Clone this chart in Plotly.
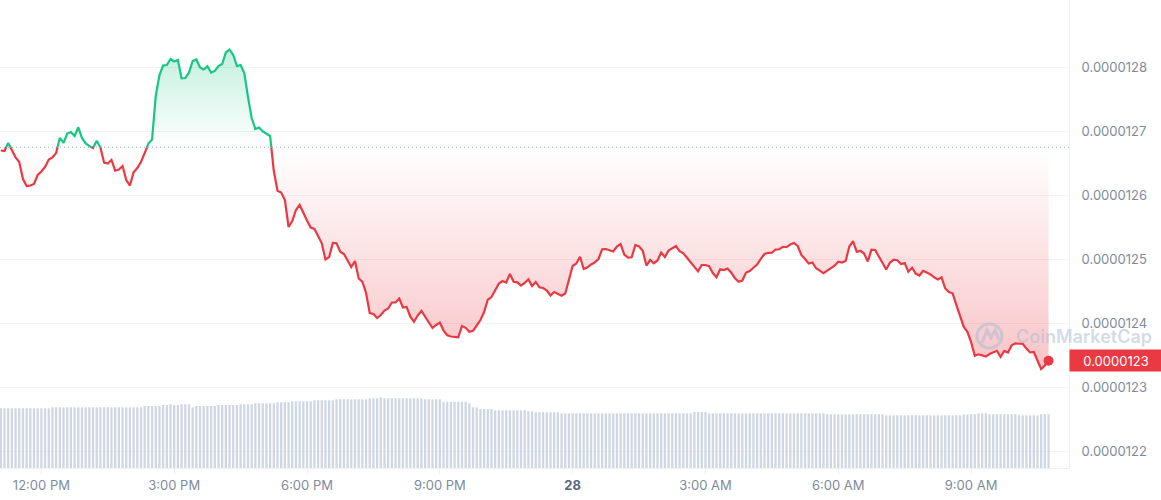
import pandas as pd
import plotly.graph_objects as go

# ---------------- data ----------------
START_TIME = "2024-05-27 11:05"
STEP = "5min"
OPEN_PRICE = 1.26745e-5  # reference (dotted) price

PRICE = [
    1.26695e-5, 1.26688e-5, 1.26813e-5, 1.26703e-5, 1.26586e-5, 1.26516e-5, 1.26250e-5, 1.26141e-5, 1.26148e-5, 1.26172e-5,
    1.26313e-5, 1.26367e-5, 1.26438e-5, 1.26555e-5, 1.26586e-5, 1.26656e-5, 1.26891e-5, 1.26813e-5, 1.26961e-5, 1.26984e-5,
    1.26922e-5, 1.27058e-5, 1.26891e-5, 1.26805e-5, 1.26758e-5, 1.26734e-5, 1.26848e-5, 1.26742e-5, 1.26505e-5, 1.26492e-5,
    1.26547e-5, 1.26380e-5, 1.26398e-5, 1.26453e-5, 1.26234e-5, 1.26148e-5, 1.26355e-5, 1.26422e-5, 1.26516e-5, 1.26641e-5,
    1.26805e-5, 1.26867e-5, 1.27547e-5, 1.27875e-5, 1.28023e-5, 1.28031e-5, 1.28125e-5, 1.28086e-5, 1.28109e-5, 1.27823e-5,
    1.27828e-5, 1.27911e-5, 1.28094e-5, 1.28117e-5, 1.27992e-5, 1.27961e-5, 1.28011e-5, 1.27914e-5, 1.27938e-5, 1.28016e-5,
    1.28047e-5, 1.28227e-5, 1.28273e-5, 1.28188e-5, 1.28016e-5, 1.28031e-5, 1.27906e-5, 1.27531e-5, 1.27203e-5, 1.27031e-5,
    1.27055e-5, 1.26992e-5, 1.26953e-5, 1.26922e-5, 1.26375e-5, 1.26067e-5, 1.26039e-5, 1.25922e-5, 1.25500e-5, 1.25594e-5,
    1.25766e-5, 1.25844e-5, 1.25714e-5, 1.25602e-5, 1.25492e-5, 1.25469e-5, 1.25359e-5, 1.25245e-5, 1.24992e-5, 1.25031e-5,
    1.25250e-5, 1.25245e-5, 1.25114e-5, 1.25078e-5, 1.24977e-5, 1.24875e-5, 1.24969e-5, 1.24695e-5, 1.24645e-5, 1.24469e-5,
    1.24156e-5, 1.24141e-5, 1.24078e-5, 1.24125e-5, 1.24195e-5, 1.24227e-5, 1.24320e-5, 1.24320e-5, 1.24383e-5, 1.24242e-5,
    1.24250e-5, 1.24098e-5, 1.24020e-5, 1.24117e-5, 1.24188e-5, 1.24102e-5, 1.24000e-5, 1.23922e-5, 1.23969e-5, 1.24005e-5,
    1.23886e-5, 1.23809e-5, 1.23789e-5, 1.23781e-5, 1.23777e-5, 1.23953e-5, 1.23925e-5, 1.23864e-5, 1.23878e-5, 1.23961e-5,
    1.24047e-5, 1.24172e-5, 1.24363e-5, 1.24406e-5, 1.24516e-5, 1.24617e-5, 1.24656e-5, 1.24633e-5, 1.24766e-5, 1.24645e-5,
    1.24636e-5, 1.24586e-5, 1.24625e-5, 1.24683e-5, 1.24578e-5, 1.24641e-5, 1.24558e-5, 1.24547e-5, 1.24508e-5, 1.24430e-5,
    1.24484e-5, 1.24453e-5, 1.24425e-5, 1.24461e-5, 1.24688e-5, 1.24891e-5, 1.24930e-5, 1.25036e-5, 1.24844e-5, 1.24870e-5,
    1.24914e-5, 1.24948e-5, 1.25000e-5, 1.25152e-5, 1.25156e-5, 1.25133e-5, 1.25117e-5, 1.25195e-5, 1.25234e-5, 1.25070e-5,
    1.25023e-5, 1.25027e-5, 1.25219e-5, 1.25195e-5, 1.25130e-5, 1.24898e-5, 1.24984e-5, 1.24934e-5, 1.24977e-5, 1.25102e-5,
    1.25031e-5, 1.25131e-5, 1.25172e-5, 1.25202e-5, 1.25122e-5, 1.25089e-5, 1.25019e-5, 1.24945e-5, 1.24875e-5, 1.24806e-5,
    1.24906e-5, 1.24906e-5, 1.24888e-5, 1.24781e-5, 1.24716e-5, 1.24839e-5, 1.24828e-5, 1.24852e-5, 1.24786e-5, 1.24700e-5,
    1.24645e-5, 1.24664e-5, 1.24789e-5, 1.24813e-5, 1.24864e-5, 1.24914e-5, 1.25003e-5, 1.25078e-5, 1.25097e-5, 1.25098e-5,
    1.25148e-5, 1.25152e-5, 1.25191e-5, 1.25184e-5, 1.25227e-5, 1.25250e-5, 1.25203e-5, 1.25063e-5, 1.25000e-5, 1.24930e-5,
    1.24945e-5, 1.24855e-5, 1.24819e-5, 1.24777e-5, 1.24817e-5, 1.24859e-5, 1.24894e-5, 1.24958e-5, 1.24945e-5, 1.24969e-5,
    1.25195e-5, 1.25281e-5, 1.25114e-5, 1.25128e-5, 1.25086e-5, 1.24961e-5, 1.25145e-5, 1.25141e-5, 1.25031e-5, 1.24938e-5,
    1.24836e-5, 1.24941e-5, 1.24988e-5, 1.24980e-5, 1.24922e-5, 1.24938e-5, 1.24802e-5, 1.24863e-5, 1.24772e-5, 1.24742e-5,
    1.24816e-5, 1.24789e-5, 1.24759e-5, 1.24713e-5, 1.24680e-5, 1.24714e-5, 1.24539e-5, 1.24484e-5, 1.24464e-5, 1.24284e-5,
    1.24125e-5, 1.23942e-5, 1.23863e-5, 1.23703e-5, 1.23488e-5, 1.23511e-5, 1.23495e-5, 1.23475e-5, 1.23516e-5, 1.23547e-5,
    1.23566e-5, 1.23469e-5, 1.23563e-5, 1.23538e-5, 1.23653e-5, 1.23680e-5, 1.23680e-5, 1.23675e-5, 1.23602e-5, 1.23541e-5,
    1.23547e-5, 1.23422e-5, 1.23281e-5, 1.23336e-5, 1.23411e-5,
]

# volume per 5-minute bar (arbitrary units)
VOLUME = [
    5.97, 5.97, 5.97, 5.97, 5.97, 5.97, 5.97, 5.97, 5.97, 5.97, 5.97, 5.97, 5.97, 5.97,
    6.07, 6.07, 6.07, 6.07, 6.07, 6.07, 6.07, 6.07, 6.07, 6.07, 6.07, 6.07, 6.07,
    6.07, 6.07, 6.07, 6.07, 6.07, 6.07, 6.07, 6.07, 6.07, 6.07, 6.07, 6.07,
    6.20, 6.20, 6.20, 6.20, 6.20,
    6.30, 6.30, 6.37, 6.30, 6.30, 6.37, 6.37, 6.37,
    6.07,
    6.20, 6.20, 6.20, 6.20, 6.20, 6.20,
    6.30, 6.30, 6.30, 6.30, 6.30, 6.30,
    6.37, 6.37, 6.37, 6.37,
    6.47, 6.47, 6.47, 6.47, 6.47, 6.47,
    6.57, 6.57, 6.57, 6.57,
    6.67, 6.67, 6.67, 6.67, 6.67, 6.67,
    6.77, 6.77, 6.77, 6.77, 6.77, 6.77,
    6.87, 6.87, 6.87, 6.87, 6.87, 6.87, 6.87, 6.87, 6.87,
    6.97, 6.97, 6.97,
    7.07,
    6.97, 6.97, 6.97, 6.97, 6.97, 6.97, 6.97, 6.97, 6.97, 6.97, 6.97,
    6.87, 6.87, 6.87, 6.87, 6.87,
    6.63, 6.63, 6.63, 6.63, 6.63, 6.63, 6.63,
    6.47,
    6.07, 6.07,
    5.90, 5.90, 5.90, 5.90,
    5.77, 5.77, 5.77, 5.77, 5.77, 5.77, 5.77, 5.77, 5.77,
    5.67, 5.67,
    5.57, 5.57, 5.57, 5.57, 5.57, 5.57, 5.57,
    5.47, 5.47, 5.47, 5.47, 5.47, 5.47, 5.47, 5.47, 5.47, 5.47, 5.47, 5.47,
    5.47, 5.47, 5.47, 5.47, 5.47, 5.47, 5.47, 5.47, 5.47, 5.47, 5.47, 5.47,
    5.47, 5.47, 5.47, 5.47, 5.47, 5.47, 5.47, 5.47, 5.47, 5.47, 5.47, 5.47,
    5.60, 5.60, 5.60, 5.60,
    5.47, 5.47, 5.47, 5.47, 5.47, 5.47, 5.47, 5.47, 5.47, 5.47, 5.47, 5.47,
    5.47, 5.47, 5.47, 5.47, 5.47, 5.47, 5.47, 5.47, 5.47, 5.47, 5.47, 5.47,
    5.47, 5.47, 5.47, 5.47, 5.47, 5.47, 5.47, 5.47,
    5.37, 5.37, 5.37, 5.37, 5.37, 5.37, 5.37, 5.37, 5.37, 5.37, 5.37, 5.37, 5.37, 5.37, 5.37, 5.37,
    5.27, 5.27, 5.27, 5.27, 5.27, 5.27, 5.27, 5.27, 5.27, 5.27, 5.27,
    5.27, 5.27, 5.27, 5.27, 5.27, 5.27, 5.27, 5.27, 5.27, 5.27,
    5.37, 5.37, 5.37, 5.37,
    5.47, 5.47, 5.47,
    5.37, 5.37, 5.37, 5.37, 5.37, 5.37, 5.37, 5.37,
    5.27, 5.27, 5.27, 5.27, 5.27, 5.27,
    5.37, 5.37, 5.37,
]

X_TICKS = ["2024-05-27 12:00", "2024-05-27 15:00", "2024-05-27 18:00", "2024-05-27 21:00",
           "2024-05-28 00:00", "2024-05-28 03:00", "2024-05-28 06:00", "2024-05-28 09:00"]
X_TICK_LABELS = ["12:00 PM", "3:00 PM", "6:00 PM", "9:00 PM",
                 "<span style='color:#58667e'><b>28</b></span>", "3:00 AM", "6:00 AM", "9:00 AM"]
Y_TICKS = [1.22e-5, 1.23e-5, 1.24e-5, 1.25e-5, 1.26e-5, 1.27e-5, 1.28e-5]
X_RANGE = ["2024-05-27 11:03:54", "2024-05-28 11:12:43"]
Y_RANGE = [1.2173438e-5, 1.2904688e-5]

# ---------------- styling ----------------
GREEN = "#16c784"
RED = "#ea3943"
BAR = "#cfd6e4"
GRID = "#f1f2f4"
TICK_COLOR = "#808a9d"
FONT = "Inter"

n = min(len(PRICE), len(VOLUME))
times = pd.date_range(START_TIME, periods=len(PRICE), freq=STEP)
t_ns = times.asi8

# add the points where the price crosses the reference line, so colours split cleanly
xs, ys = [], []
for i, p in enumerate(PRICE):
    if i:
        p0 = PRICE[i - 1]
        if (p0 - OPEN_PRICE) * (p - OPEN_PRICE) < 0:
            f = (OPEN_PRICE - p0) / (p - p0)
            xs.append(int(t_ns[i - 1] + f * (t_ns[i] - t_ns[i - 1])))
            ys.append(OPEN_PRICE)
    xs.append(int(t_ns[i]))
    ys.append(p)
xd = pd.to_datetime(xs)

up_line = [y if y >= OPEN_PRICE else None for y in ys]
dn_line = [y if y <= OPEN_PRICE else None for y in ys]
up_fill = [max(y, OPEN_PRICE) for y in ys]
dn_fill = [min(y, OPEN_PRICE) for y in ys]
base = [OPEN_PRICE] * len(ys)

fig = go.Figure()

fig.add_trace(go.Bar(x=times[:n], y=VOLUME[:n], yaxis="y2", marker=dict(color=BAR, line=dict(width=0)),
                     hoverinfo="skip"))

fig.add_trace(go.Scatter(x=xd, y=base, mode="lines", line=dict(width=0), hoverinfo="skip"))
fig.add_trace(go.Scatter(x=xd, y=up_fill, mode="lines", line=dict(width=0), fill="tonexty",
                         fillgradient=dict(type="vertical",
                                           colorscale=[[0, "rgba(22,199,132,0)"], [1, "rgba(22,199,132,0.26)"]]),
                         hoverinfo="skip"))
fig.add_trace(go.Scatter(x=xd, y=base, mode="lines", line=dict(width=0), hoverinfo="skip"))
fig.add_trace(go.Scatter(x=xd, y=dn_fill, mode="lines", line=dict(width=0), fill="tonexty",
                         fillgradient=dict(type="vertical",
                                           colorscale=[[0, "rgba(234,57,67,0.30)"], [1, "rgba(234,57,67,0)"]]),
                         hoverinfo="skip"))

fig.add_trace(go.Scatter(x=xd, y=up_line, mode="lines", line=dict(color=GREEN, width=2.2), connectgaps=False))
fig.add_trace(go.Scatter(x=xd, y=dn_line, mode="lines", line=dict(color=RED, width=2.2), connectgaps=False))
fig.add_trace(go.Scatter(x=[times[-1]], y=[PRICE[-1]], mode="markers",
                         marker=dict(color=RED, size=10, line=dict(width=0))))

# dotted reference line
fig.add_shape(type="line", xref="paper", x0=0, x1=1, yref="y", y0=OPEN_PRICE, y1=OPEN_PRICE,
              line=dict(color="#a6b0c3", width=1, dash="1px,3px"), layer="below")

# watermark
WM = "rgba(172,188,212,0.55)"
fig.add_shape(type="circle", xref="paper", yref="paper", x0=0.9140, x1=0.9373, y0=0.2565, y1=0.3078,
              line=dict(color=WM, width=3))
fig.add_shape(type="path", xref="paper", yref="paper",
              path="M 0.9186 0.2672 L 0.9233 0.2949 L 0.9270 0.2779 L 0.9308 0.2949 L 0.9345 0.2736",
              line=dict(color=WM, width=3))
fig.add_annotation(xref="paper", yref="paper", x=0.9485, y=0.2800, xanchor="left", yanchor="middle",
                   text="CoinMarketCap", showarrow=False,
                   font=dict(family=FONT, size=18, color=WM, weight=600))

# current price tag
fig.add_annotation(xref="paper", x=1.0, xanchor="left", yref="y", y=PRICE[-1], yanchor="middle",
                   text=f"{PRICE[-1]:.7f}", showarrow=False, bgcolor=RED, width=88, height=17, borderpad=2,
                   font=dict(family=FONT, size=13, color="white"), align="center")

fig.update_layout(
    width=1161, height=500,
    margin=dict(l=0, r=92, t=0, b=32),
    paper_bgcolor="white", plot_bgcolor="white",
    showlegend=False, bargap=0.38,
    font=dict(family=FONT, size=13, color=TICK_COLOR),
    xaxis=dict(range=X_RANGE, tickmode="array", tickvals=X_TICKS, ticktext=X_TICK_LABELS,
               showgrid=False, zeroline=False, showline=True, linecolor="#eef0f3", linewidth=1,
               ticks="outside", ticklen=5, tickcolor="#eef0f3",
               tickfont=dict(family=FONT, size=13, color=TICK_COLOR)),
    yaxis=dict(side="right", range=Y_RANGE, tickmode="array", tickvals=Y_TICKS, tickformat=".7f",
               showgrid=True, gridcolor=GRID, gridwidth=1, zeroline=False,
               showline=True, linecolor="#eef0f3", linewidth=1, ticks="", ticklabelstandoff=9,
               tickfont=dict(family=FONT, size=13, color=TICK_COLOR)),
    yaxis2=dict(overlaying="y", range=[0, 46.8], visible=False),
    hovermode=False,
)

fig.write_html("out.html", config={"displayModeBar": False},
               post_script="document.body.style.margin='0';document.body.style.overflow='hidden';")
